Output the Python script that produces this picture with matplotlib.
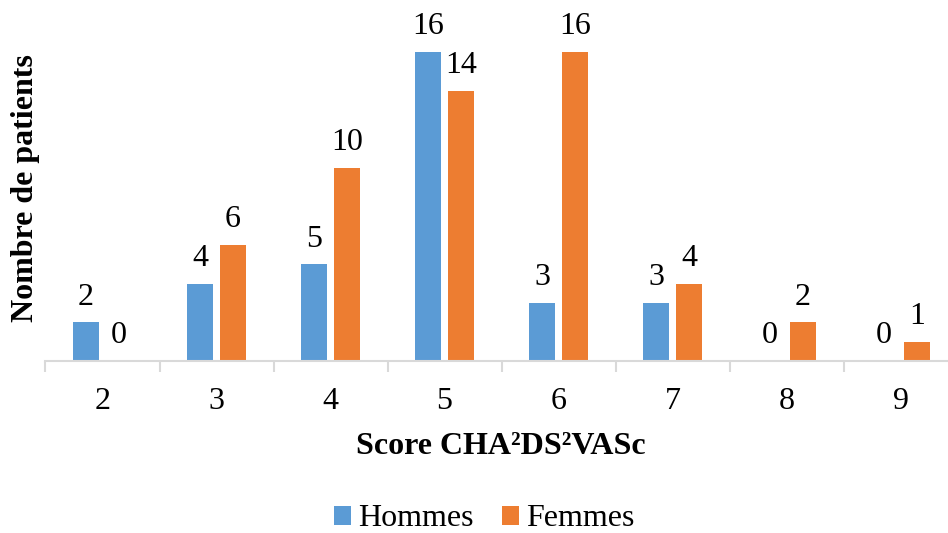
import matplotlib
matplotlib.use("Agg")
import matplotlib.pyplot as plt
import numpy as np

categories = ["2", "3", "4", "5", "6", "7", "8", "9"]
hommes = [2, 4, 5, 16, 3, 3, 0, 0]
femmes = [0, 6, 10, 14, 16, 4, 2, 1]
series_names = ["Hommes", "Femmes"]
colors = ["#5B9BD5", "#ED7D31"]

plt.rcParams["font.family"] = ["Liberation Serif", "DejaVu Serif"]

W, H = 948, 533
fig = plt.figure(figsize=(W / 100, H / 100), dpi=100)
left, right = 45.5, 957.5
bottom, top = 361, 52
ax = fig.add_axes([left / W, 1 - bottom / H, (right - left) / W, (bottom - top) / H])

x = np.arange(len(categories))
bw = 0.228
off = 0.145
b1 = ax.bar(x - off, hommes, bw, color=colors[0], label=series_names[0])
b2 = ax.bar(x + off, femmes, bw, color=colors[1], label=series_names[1])

fs = 23
for bars, vals in ((b1, hommes), (b2, femmes)):
    for rect, v in zip(bars, vals):
        ax.annotate(str(v), (rect.get_x() + rect.get_width() / 2, v),
                    xytext=(0, 12.8), textcoords="offset points",
                    ha="center", va="baseline", fontsize=fs, clip_on=False)

ax.set_xlim(-0.5, len(categories) - 0.5)
ax.set_ylim(0, 16)
ax.set_yticks([])
for s in ["top", "right", "left"]:
    ax.spines[s].set_visible(False)
ax.spines["bottom"].set_color("#D9D9D9")
ax.spines["bottom"].set_linewidth(1.5)

ax.set_xticks(x)
ax.set_xticklabels(categories, fontsize=fs)
ax.set_xticks(np.arange(-0.5, len(categories)), minor=True)
ax.tick_params(axis="x", which="major", length=0, pad=18.5)
ax.tick_params(axis="x", which="minor", length=8, width=1.5, color="#D9D9D9")

fig.text(26 / W, 1 - 188 / H, "Nombre de patients", rotation=90, ha="center", va="center",
         fontsize=fs, fontweight="bold")
fig.text(501 / W, 1 - 447 / H, "Score CHA²DS²VASc", ha="center", va="center",
         fontsize=fs, fontweight="bold")

fig.legend(loc="center", bbox_to_anchor=(484 / W, 1 - 519 / H), ncol=2, frameon=False,
           fontsize=fs, handlelength=0.53, handleheight=0.53, handletextpad=0.22,
           columnspacing=0.9, borderaxespad=0, borderpad=0)

fig.savefig("out.png", dpi=100)
